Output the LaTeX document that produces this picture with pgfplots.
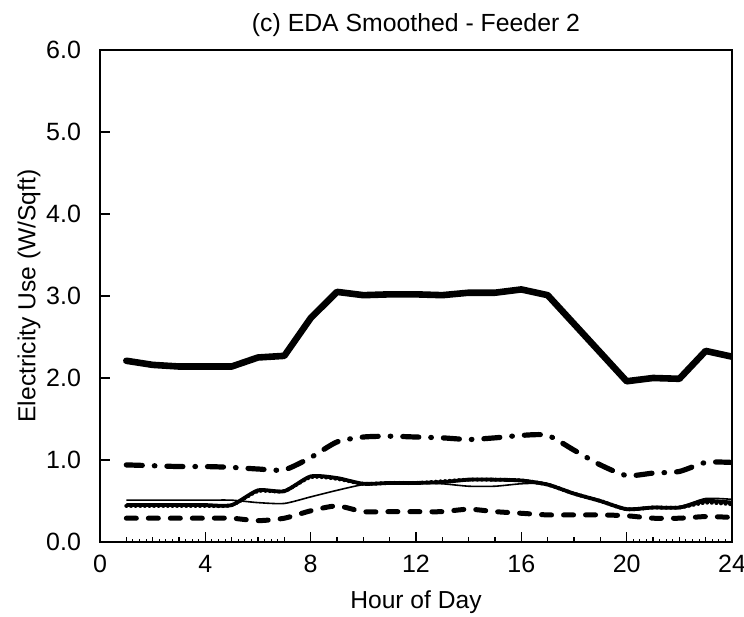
\documentclass[border=0pt]{standalone}
\usepackage{pgfplots}
\pgfplotsset{compat=1.18}
\usepackage{fontspec}
\setmainfont{Liberation Sans}

\begin{document}
\begin{tikzpicture}
\begin{axis}[
    name=ax,
    scale only axis,
    width=316pt, height=246pt,
    xmin=0, xmax=24, ymin=0, ymax=6,
    xtick={0,4,...,24},
    minor xtick={1,2,3,5,6,7,9,10,11,13,14,15,17,18,19,21,22,23},
    extra x ticks={1.25,1.5,1.75,2.25,2.5,2.75,3.25,3.5,3.75,4.25,4.5,4.75,5.25,5.5,5.75,6.25,6.5,6.75,20.25,20.5,20.75,21.25,21.5,21.75,22.25,22.5,22.75,23.25,23.5,23.75},
    extra x tick labels={},
    extra x tick style={major tick length=1.5pt, tick style={line width=0.5pt}},
    ytick={0,1,...,6},
    tick align=inside,
    xtick pos=bottom, ytick pos=left,
    major tick length=5pt, minor tick length=2.5pt,
    tick style={black, line width=0.7pt},
    axis line style={line width=0.9pt},
    /pgf/number format/assume math mode=true,
    yticklabel style={/pgf/number format/fixed, /pgf/number format/fixed zerofill,
        /pgf/number format/precision=1, xshift=-6pt},
    xticklabel style={yshift=-3pt},
    tick label style={font=\fontsize{12.5}{14}\selectfont},
    label style={font=\fontsize{12.3}{14}\selectfont},
    title style={font=\fontsize{12.4}{14}\selectfont, yshift=-3pt},
    title={(c) EDA Smoothed - Feeder 2},
    xlabel={Hour of Day},
    ylabel={Electricity Use (W/Sqft)},
    xlabel style={yshift=-2pt},
    ylabel style={yshift=-4pt},
]

% top thick solid
\addplot[black, line width=3.3pt, line join=round, line cap=round] coordinates {
    (1,2.21) (2,2.16) (3,2.14) (4,2.14) (5,2.14) (6,2.25) (7,2.27) (8,2.73)
    (9,3.05) (10,3.01) (11,3.02) (12,3.02) (13,3.01) (14,3.04) (15,3.04) (16,3.08)
    (17,3.01) (18,2.66) (19,2.31) (20,1.96) (21,2.00) (22,1.99) (23,2.33) (24,2.26)
};

% dash-dot
\addplot[black, smooth, tension=0.4, line width=2.6pt, line cap=round,
    dash pattern=on 8pt off 6pt on 0.3pt off 6pt] coordinates {
    (1,0.94) (2,0.93) (3,0.92) (4,0.92) (5,0.91) (6,0.89) (7,0.88) (8,1.03)
    (9,1.22) (10,1.28) (11,1.29) (12,1.28) (13,1.27) (14,1.25) (15,1.27) (16,1.30)
    (17,1.30) (18,1.12) (19,0.94) (20,0.81) (21,0.84) (22,0.86) (23,0.97) (24,0.97)
};

% thin solid
\addplot[black, smooth, tension=0.4, line width=0.8pt] coordinates {
    (1,0.51) (2,0.51) (3,0.51) (4,0.51) (5,0.51) (6,0.48) (7,0.47) (8,0.55)
    (9,0.63) (10,0.70) (11,0.72) (12,0.72) (13,0.71) (14,0.68) (15,0.68) (16,0.71)
    (17,0.71) (18,0.59) (19,0.50) (20,0.41) (21,0.43) (22,0.43) (23,0.53) (24,0.52)
};

% medium solid
\addplot[black, smooth, tension=0.4, line width=1.9pt] coordinates {
    (1,0.45) (2,0.45) (3,0.45) (4,0.45) (5,0.45) (6,0.63) (7,0.62) (8,0.80)
    (9,0.78) (10,0.71) (11,0.72) (12,0.72) (13,0.73) (14,0.76) (15,0.76) (16,0.75)
    (17,0.70) (18,0.59) (19,0.50) (20,0.40) (21,0.42) (22,0.42) (23,0.50) (24,0.48)
};

% dotted
\addplot[black, smooth, tension=0.4, line width=2pt, line cap=round,
    dash pattern=on 0.1pt off 2.2pt] coordinates {
    (1,0.44) (2,0.44) (3,0.44) (4,0.44) (5,0.45) (6,0.62) (7,0.62) (8,0.79)
    (9,0.77) (10,0.71) (11,0.72) (12,0.72) (13,0.74) (14,0.76) (15,0.76) (16,0.75)
    (17,0.70) (18,0.59) (19,0.50) (20,0.40) (21,0.42) (22,0.42) (23,0.48) (24,0.46)
};

% dashed
\addplot[black, smooth, tension=0.4, line width=2.5pt, line cap=round,
    dash pattern=on 5pt off 6pt] coordinates {
    (1,0.29) (2,0.29) (3,0.29) (4,0.29) (5,0.29) (6,0.26) (7,0.29) (8,0.38)
    (9,0.44) (10,0.37) (11,0.37) (12,0.37) (13,0.37) (14,0.40) (15,0.37) (16,0.35)
    (17,0.33) (18,0.33) (19,0.33) (20,0.32) (21,0.29) (22,0.29) (23,0.31) (24,0.30)
};

\end{axis}
\pgfresetboundingbox
\path ([shift={(-50pt,-37.5pt)}]ax.south west) rectangle ([shift={(6pt,25pt)}]ax.north east);
\end{tikzpicture}
\end{document}
